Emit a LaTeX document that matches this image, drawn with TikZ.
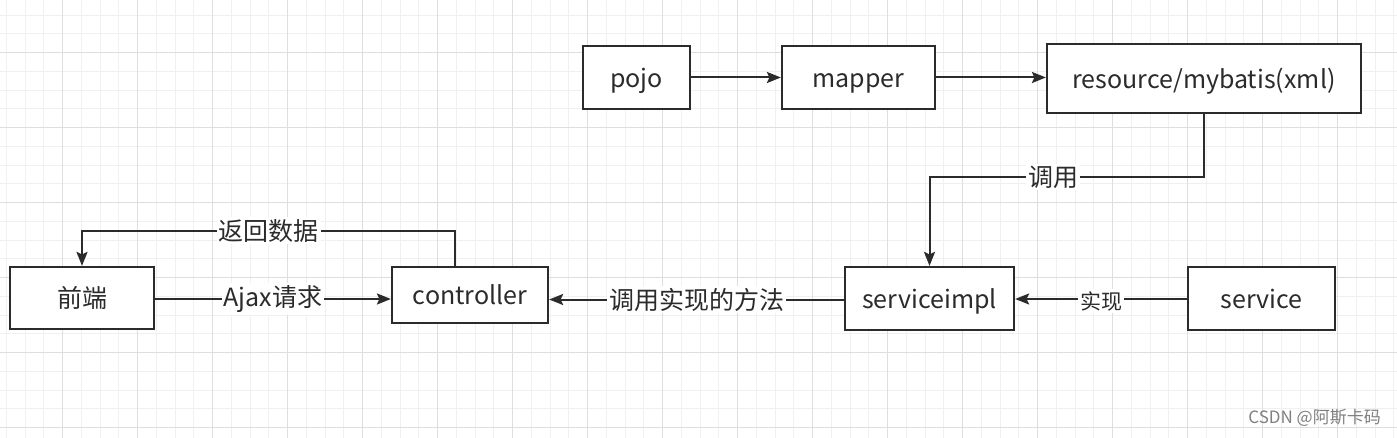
\documentclass[tikz,border=0pt]{standalone}
\usepackage{fontspec}
\setmainfont{Noto Sans CJK SC}
\usetikzlibrary{arrows.meta,calc}
\definecolor{gridminor}{HTML}{F0F0F0}
\definecolor{gridmajor}{HTML}{DEDEDE}
\definecolor{ink}{HTML}{2B2B2B}
\begin{document}
\begin{tikzpicture}[x=1pt,y=-1pt,
  box/.style={draw=ink, line width=2.2pt, fill=white, inner sep=0pt, text=ink, font=\fontsize{25}{30}\selectfont, text height=23pt, text depth=3pt},
  conn/.style={draw=ink, line width=2pt},
  arr/.style={conn, -{Stealth[length=14pt,width=11pt,inset=2.5pt]}},
  lbl/.style={fill=white, inner sep=2pt, text=ink, font=\fontsize{25}{30}\selectfont},
  slbl/.style={fill=white, inner sep=2pt, text=ink, font=\fontsize{21}{25}\selectfont, yshift=-2pt}]
\useasboundingbox (0,0) rectangle (1397,438);
\fill[white] (0,0) rectangle (1397,438);
% grid
\foreach \i in {0,...,74} \draw[gridminor, line width=0.9pt] ({6.25+18.75*\i},0) -- ({6.25+18.75*\i},438);
\foreach \j in {0,...,22} \draw[gridminor, line width=0.9pt] (0,{15+18.75*\j}) -- (1397,{15+18.75*\j});
\foreach \i in {0,...,18} \draw[gridmajor, line width=0.9pt] ({62.5+75*\i},0) -- ({62.5+75*\i},438);
\foreach \j in {0,...,5} \draw[gridmajor, line width=0.9pt] (0,{52.5+75*\j}) -- (1397,{52.5+75*\j});
% nodes
\node[box, minimum width=107pt, minimum height=63pt] (pojo) at (636.5,77.5) {pojo};
\node[box, minimum width=153pt, minimum height=63pt] (mapper) at (858.5,77.5) {mapper};
\node[box, minimum width=314pt, minimum height=69pt] (res) at (1204,78.5) {resource/mybatis(xml)};
\node[box, minimum width=144pt, minimum height=62pt] (fe) at (82,298) {前端};
\node[box, minimum width=156pt, minimum height=56pt] (ctrl) at (470,295) {controller};
\node[box, minimum width=169pt, minimum height=63pt] (simpl) at (929.5,298.5) {serviceimpl};
\node[box, minimum width=147pt, minimum height=63pt] (svc) at (1261.5,298.5) {service};
% connectors
\draw[arr] (pojo.east) -- (pojo.east -| mapper.west);
\draw[arr] (mapper.east) -- (mapper.east -| res.west);
\coordinate (r1) at ($(res.south)+(0,63)$);
\coordinate (r2) at (r1 -| simpl.north);
\draw[arr] (res.south) -- (r1) -- node[lbl, pos=0.55] {调用} (r2) -- (simpl.north);
\coordinate (c0) at ([xshift=-15pt]ctrl.north);
\coordinate (c1) at ($(c0)+(0,-35)$);
\coordinate (c2) at (c1 -| fe.north);
\draw[arr] (c0) -- (c1) -- node[lbl] {返回数据} (c2) -- (fe.north);
\coordinate (f0) at ([yshift=-1pt]fe.east);
\draw[arr] (f0) -- node[lbl] {Ajax请求} (f0 -| ctrl.west);
\coordinate (s0) at ([yshift=-1pt]simpl.west);
\draw[arr] (s0 -| simpl.west) -- node[lbl] {调用实现的方法} (s0 -| ctrl.east);
\coordinate (v0) at ([yshift=-0.5pt]svc.west);
\draw[arr] (v0) -- node[slbl] {实现} (v0 -| simpl.east);
% watermark
\node[anchor=east, text=black!50, font=\fontsize{17}{20}\selectfont, inner sep=0pt] (wm) at (1381,418) {CSDN @阿斯卡码};
\end{tikzpicture}
\end{document}
